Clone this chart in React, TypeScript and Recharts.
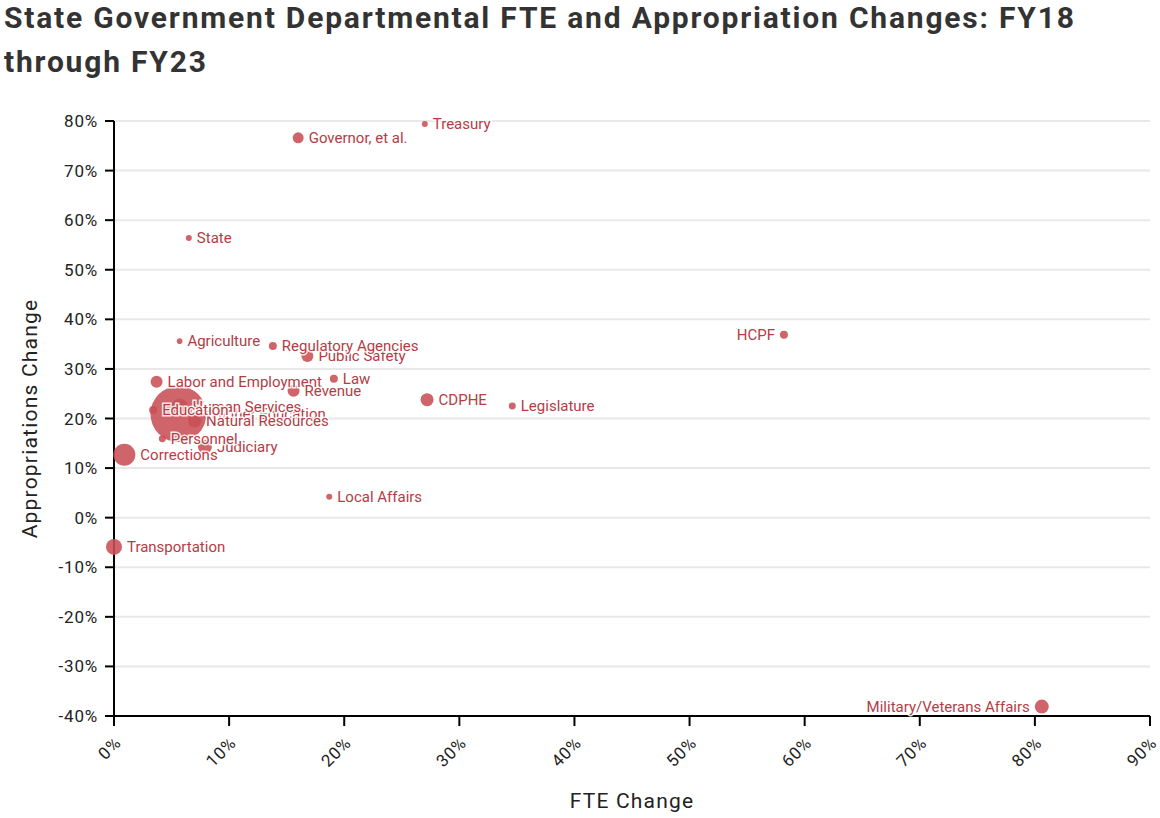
import { ScatterChart, Scatter, XAxis, YAxis, ZAxis, CartesianGrid } from "recharts";

const departments = [
  "Higher Education",
  "Corrections",
  "Human Services",
  "Transportation",
  "Judiciary",
  "Military/Veterans Affairs",
  "CDPHE",
  "Natural Resources",
  "Public Safety",
  "Labor and Employment",
  "Revenue",
  "Governor, et al.",
  "Regulatory Agencies",
  "HCPF",
  "Law",
  "Education",
  "Legislature",
  "Personnel",
  "Treasury",
  "State",
  "Local Affairs",
  "Agriculture",
];

// FTE change, percent
const fteChange = [
  5.6, 0.9, 5.7, 0.0, 7.9, 80.6, 27.2, 7.0, 16.8, 3.7, 15.6, 16.0, 13.8, 58.2, 19.1, 3.4, 34.6, 4.2,
  27.0, 6.5, 18.7, 5.7,
];

// appropriations change, percent
const appropChange = [
  20.9, 12.7, 22.4, -5.9, 14.3, -38.1, 23.8, 19.5, 32.6, 27.4, 25.6, 76.6, 34.6, 36.9, 28.0, 21.7,
  22.5, 15.9, 79.4, 56.4, 4.2, 35.6,
];

// department FTE (bubble size)
const fteTotal = [
  25000, 3860, 2000, 2040, 1560, 1560, 1350, 1350, 1150, 1150, 1150, 965, 510, 510, 510, 510, 390,
  390, 287, 287, 287, 250,
];

const leftLabelled = ["HCPF", "Military/Veterans Affairs"];

const xTicks = [0, 10, 20, 30, 40, 50, 60, 70, 80, 90];
const yTicks = [-40, -30, -20, -10, 0, 10, 20, 30, 40, 50, 60, 70, 80];

const data = departments.map((name, i) => ({
  name,
  fte: fteChange[i],
  approp: appropChange[i],
  size: fteTotal[i],
}));

const DOT = "#c84f55";
const TEXT = "#b53c45";

const pct = (v: number) => `${v}%`;

function XTick(props: any) {
  const { x, y, payload } = props;
  const ax = x + 8;
  const ay = y + 16;
  return (
    <text
      x={ax}
      y={ay}
      transform={`rotate(-45, ${ax}, ${ay})`}
      textAnchor="end"
      fontSize={17}
      letterSpacing={0.8}
      fill="#222"
      fontFamily="Roboto"
    >
      {pct(payload.value)}
    </text>
  );
}

function LabelShape(props: any) {
  const { cx, cy, size, payload } = props;
  const r = Math.sqrt(Math.max(size || 0, 0) / Math.PI);
  const left = leftLabelled.includes(payload.name);
  return (
    <text
      x={left ? cx - r - 5 : cx + r + 5}
      y={cy}
      dy="0.35em"
      textAnchor={left ? "end" : "start"}
      fontSize={15}
      fontFamily="Roboto"
      fill={TEXT}
      stroke="#fff"
      strokeWidth={3}
      strokeOpacity={0.85}
      paintOrder="stroke"
    >
      {payload.name}
    </text>
  );
}

export default function App() {
  return (
    <div
      style={{
        position: "fixed",
        left: 0,
        top: 0,
        width: 1160,
        height: 818,
        overflow: "hidden",
        background: "#fff",
      }}
    >
      <div
        style={{
          position: "absolute",
          left: 4,
          top: -4,
          fontFamily: "Roboto",
          fontWeight: 700,
          fontSize: 30,
          letterSpacing: 1.8,
          lineHeight: "44px",
          color: "#333",
          whiteSpace: "nowrap",
        }}
      >
        State Government Departmental FTE and Appropriation Changes: FY18
        <br />
        through FY23
      </div>
      <div style={{ position: "absolute", left: 0, top: 0 }}>
        <ScatterChart
          width={1160}
          height={818}
          margin={{ top: 121, right: 10, bottom: 0, left: 0 }}
        >
          <CartesianGrid vertical={false} stroke="#e8e8e8" strokeWidth={2} />
          <XAxis
            type="number"
            dataKey="fte"
            domain={[0, 90]}
            ticks={xTicks}
            interval={0}
            tick={<XTick />}
            tickSize={10}
            axisLine={{ stroke: "#000", strokeWidth: 2 }}
            tickLine={{ stroke: "#000", strokeWidth: 2 }}
            height={102}
            label={{
              value: "FTE Change",
              position: "insideBottom",
              offset: 10,
              fontSize: 21,
              letterSpacing: 1.2,
              fill: "#222",
              fontFamily: "Roboto",
            }}
          />
          <YAxis
            type="number"
            dataKey="approp"
            domain={[-40, 80]}
            ticks={yTicks}
            interval={0}
            tickFormatter={pct}
            width={114}
            tickSize={9}
            tickMargin={7}
            tick={{ fontSize: 17, letterSpacing: 0.8, fill: "#222", fontFamily: "Roboto" }}
            axisLine={{ stroke: "#000", strokeWidth: 2 }}
            tickLine={{ stroke: "#000", strokeWidth: 2 }}
            label={{
              value: "Appropriations Change",
              angle: -90,
              position: "insideLeft",
              offset: 30,
              style: { textAnchor: "middle" },
              fontSize: 21,
              letterSpacing: 1.2,
              fill: "#222",
              fontFamily: "Roboto",
            }}
          />
          <ZAxis type="number" dataKey="size" domain={[0, 25000]} range={[0, 2463]} />
          <Scatter data={data} fill={DOT} fillOpacity={0.88} isAnimationActive={false} />
          <Scatter data={data} shape={<LabelShape />} isAnimationActive={false} />
        </ScatterChart>
      </div>
    </div>
  );
}
